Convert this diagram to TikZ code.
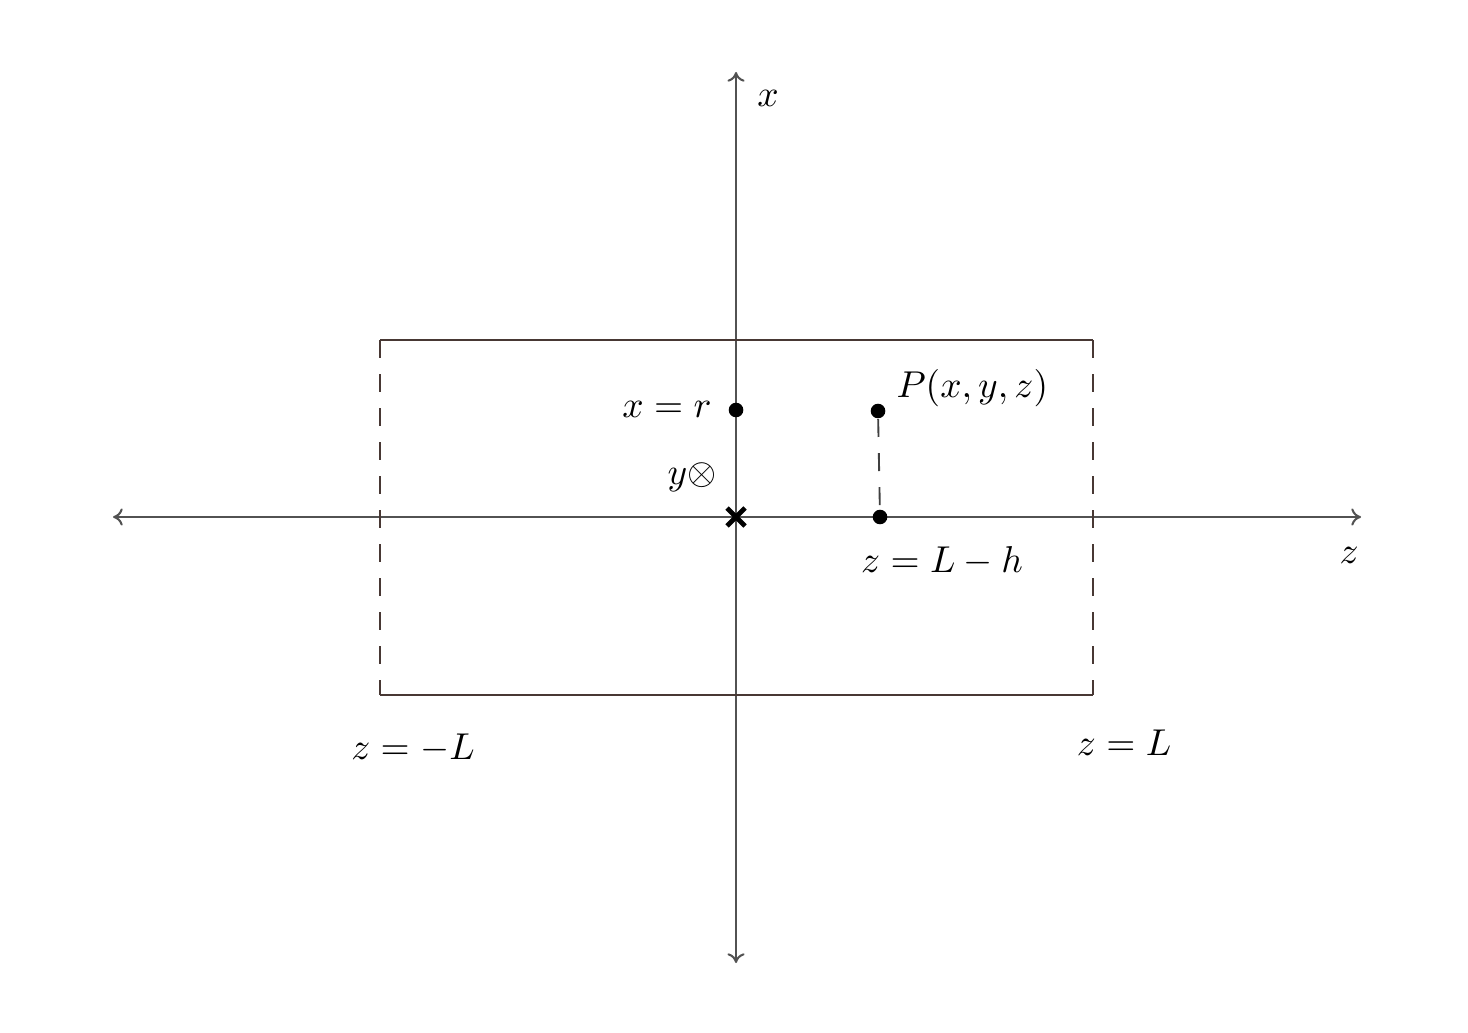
\documentclass[tikz,border=0pt]{standalone}
\usetikzlibrary{arrows.meta}
\definecolor{boxcol}{RGB}{72,56,52}
\begin{document}
\begin{tikzpicture}[x=0.0094cm,y=-0.0094cm,
  axis/.style={draw=black!68,line width=0.55pt,{To[length=2.6pt,width=4.6pt]}-{To[length=2.6pt,width=4.6pt]}},
  boxline/.style={draw=boxcol,line width=0.55pt},
  boxdash/.style={boxline,dash pattern=on 4.8pt off 4.3pt},
  pdash/.style={draw=black!75,line width=0.5pt,dash pattern=on 4.8pt off 4.3pt},
  dot/.style={circle,fill=black,inner sep=0pt,minimum size=3.9pt},
  lbl/.style={inner sep=1pt}]
\useasboundingbox (0,0) rectangle (1468,1032);
% axis end points
\coordinate (zl) at (113,517);
\coordinate (zr) at (1361,517);
\coordinate (xt) at (736,72);
\coordinate (xb) at (736,963);
% box corners
\coordinate (tl) at (380,340);
\coordinate (tr) at (1093,340);
\coordinate (bl) at (380,695);
\coordinate (br) at (1093,695);
% axes
\draw[axis] (zl) -- (zr);
\draw[axis] (xb) -- (xt);
% box
\draw[boxline] (tl) -- (tr);
\draw[boxline] (bl) -- (br);
\draw[boxdash] (tl) -- (bl);
\draw[boxdash] (tr) -- (br);
% points
\node[dot] (xr) at (736,410) {};
\node[dot] (P) at (878,411) {};
\node[dot] (Q) at (880,517) {};
\draw[pdash] (P) -- (Q);
% origin cross
\coordinate (O) at (736,517);
\draw[line width=1.3pt] ([shift={(-9,-9)}]O) -- ([shift={(9,9)}]O);
\draw[line width=1.3pt] ([shift={(-9,9)}]O) -- ([shift={(9,-9)}]O);
% labels
\node[lbl] (lx) at (768,98) {$x$};
\node[lbl] (lz) at (1349,555) {$z$};
\node[lbl,anchor=east] (lxr) at (716,409) {$x=r$};
\node[lbl] (ly) at (692,477) {$y\otimes$};
\node[lbl,anchor=west] (lP) at (892,388) {$P(x,y,z)$};
\node[lbl] (lh) at (942,561) {$z=L-h$};
\node[lbl] (lmL) at (413,748) {$z=-L$};
\node[lbl] (lL) at (1124,743) {$z=L$};
\end{tikzpicture}
\end{document}
